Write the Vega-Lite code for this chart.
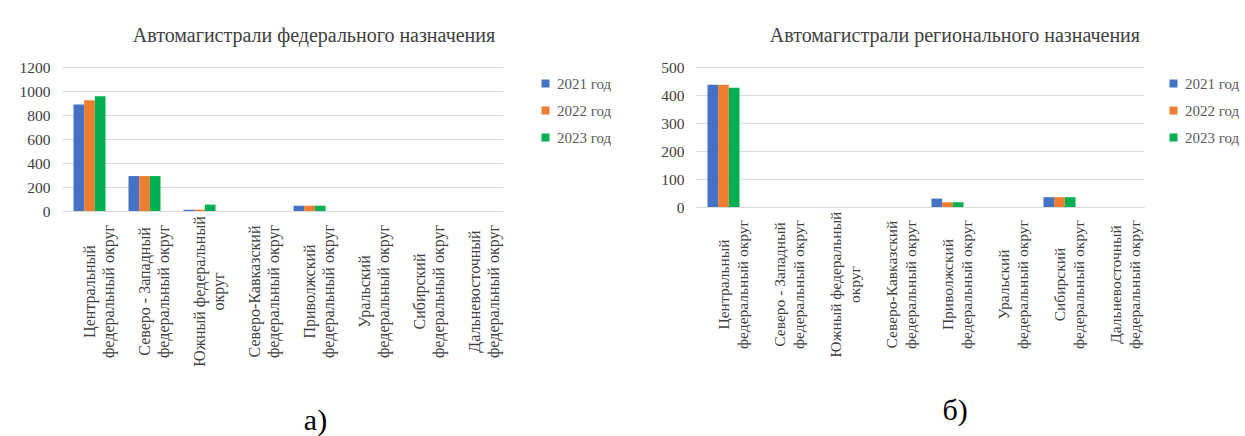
{
  "$schema": "https://vega.github.io/schema/vega-lite/v6.json",
  "padding": {"left": 19, "top": 26, "right": 0, "bottom": 0},
  "background": "white",
  "config": {
    "font": "Liberation Serif",
    "view": {"stroke": null},
    "style": {"guide-label": {"font": "Liberation Serif"}, "guide-title": {"font": "Liberation Serif"}, "group-title": {"font": "Liberation Serif"}},
    "axisY": {"labelFont": "Liberation Serif", "grid": true, "gridColor": "#D9D9D9", "domain": false, "ticks": false, "labelPadding": 12, "labelFontSize": 15.5, "labelColor": "#404040", "title": null, "format": "d"},
    "axisX": {"labelFont": "Liberation Serif", "title": null, "labelAngle": -90, "labelAlign": "center", "labelBaseline": "middle", "ticks": false, "labelFontSize": 16, "labelLineHeight": 19, "labelColor": "#404040", "domainColor": "#D9D9D9", "labelLimit": 0, "labelExpr": "split(datum.label, '|')"},
    "legend": {"title": null, "orient": "right", "symbolType": "square", "symbolSize": 64, "symbolStrokeWidth": 0, "labelFont": "Liberation Serif", "labelFontSize": 15, "labelColor": "#595959", "rowPadding": 11, "labelOffset": 4, "padding": 9},
    "title": {"font": "Liberation Serif", "fontSize": 20, "fontWeight": "normal", "color": "#404040", "frame": "bounds", "anchor": "middle", "offset": 14},
    "text": {"font": "Liberation Serif"}
  },
  "datasets": {
    "fed": [
      {"district": "Центральный|федеральный округ", "year": "2021 год", "value": 887},
      {"district": "Центральный|федеральный округ", "year": "2022 год", "value": 923},
      {"district": "Центральный|федеральный округ", "year": "2023 год", "value": 956},
      {"district": "Северо - Западный|федеральный округ", "year": "2021 год", "value": 291},
      {"district": "Северо - Западный|федеральный округ", "year": "2022 год", "value": 291},
      {"district": "Северо - Западный|федеральный округ", "year": "2023 год", "value": 291},
      {"district": "Южный федеральный|округ", "year": "2021 год", "value": 11},
      {"district": "Южный федеральный|округ", "year": "2022 год", "value": 11},
      {"district": "Южный федеральный|округ", "year": "2023 год", "value": 53},
      {"district": "Северо-Кавказский|федеральный округ", "year": "2021 год", "value": 0},
      {"district": "Северо-Кавказский|федеральный округ", "year": "2022 год", "value": 0},
      {"district": "Северо-Кавказский|федеральный округ", "year": "2023 год", "value": 0},
      {"district": "Приволжский|федеральный округ", "year": "2021 год", "value": 44},
      {"district": "Приволжский|федеральный округ", "year": "2022 год", "value": 44},
      {"district": "Приволжский|федеральный округ", "year": "2023 год", "value": 44},
      {"district": "Уральский|федеральный округ", "year": "2021 год", "value": 0},
      {"district": "Уральский|федеральный округ", "year": "2022 год", "value": 0},
      {"district": "Уральский|федеральный округ", "year": "2023 год", "value": 0},
      {"district": "Сибирский|федеральный округ", "year": "2021 год", "value": 0},
      {"district": "Сибирский|федеральный округ", "year": "2022 год", "value": 0},
      {"district": "Сибирский|федеральный округ", "year": "2023 год", "value": 0},
      {"district": "Дальневосточный|федеральный округ", "year": "2021 год", "value": 0},
      {"district": "Дальневосточный|федеральный округ", "year": "2022 год", "value": 0},
      {"district": "Дальневосточный|федеральный округ", "year": "2023 год", "value": 0}
    ],
    "reg": [
      {"district": "Центральный|федеральный округ", "year": "2021 год", "value": 437},
      {"district": "Центральный|федеральный округ", "year": "2022 год", "value": 437},
      {"district": "Центральный|федеральный округ", "year": "2023 год", "value": 426},
      {"district": "Северо - Западный|федеральный округ", "year": "2021 год", "value": 0},
      {"district": "Северо - Западный|федеральный округ", "year": "2022 год", "value": 0},
      {"district": "Северо - Западный|федеральный округ", "year": "2023 год", "value": 0},
      {"district": "Южный федеральный|округ", "year": "2021 год", "value": 0},
      {"district": "Южный федеральный|округ", "year": "2022 год", "value": 0},
      {"district": "Южный федеральный|округ", "year": "2023 год", "value": 0},
      {"district": "Северо-Кавказский|федеральный округ", "year": "2021 год", "value": 0},
      {"district": "Северо-Кавказский|федеральный округ", "year": "2022 год", "value": 0},
      {"district": "Северо-Кавказский|федеральный округ", "year": "2023 год", "value": 0},
      {"district": "Приволжский|федеральный округ", "year": "2021 год", "value": 30},
      {"district": "Приволжский|федеральный округ", "year": "2022 год", "value": 17},
      {"district": "Приволжский|федеральный округ", "year": "2023 год", "value": 17},
      {"district": "Уральский|федеральный округ", "year": "2021 год", "value": 0},
      {"district": "Уральский|федеральный округ", "year": "2022 год", "value": 0},
      {"district": "Уральский|федеральный округ", "year": "2023 год", "value": 0},
      {"district": "Сибирский|федеральный округ", "year": "2021 год", "value": 35},
      {"district": "Сибирский|федеральный округ", "year": "2022 год", "value": 35},
      {"district": "Сибирский|федеральный округ", "year": "2023 год", "value": 35},
      {"district": "Дальневосточный|федеральный округ", "year": "2021 год", "value": 0},
      {"district": "Дальневосточный|федеральный округ", "year": "2022 год", "value": 0},
      {"district": "Дальневосточный|федеральный округ", "year": "2023 год", "value": 0}
    ],
    "capA": [{"t": "а)"}],
    "capB": [{"t": "б)"}]
  },
  "spacing": 39,
  "resolve": {"scale": {"color": "independent"}, "legend": {"color": "independent"}},
  "hconcat": [
    {
      "spacing": 34,
      "resolve": {"scale": {"color": "independent"}, "legend": {"color": "independent"}},
      "vconcat": [
        {
          "data": {"name": "fed"},
          "title": {"text": "Автомагистрали федерального назначения", "dx": -6},
          "width": 440,
          "height": 144,
          "mark": {"type": "bar"},
          "encoding": {
            "x": {"field": "district", "type": "nominal", "sort": null, "scale": {"paddingInner": 0.418, "paddingOuter": 0.209}, "axis": {"labelPadding": 80}},
            "xOffset": {"field": "year", "type": "nominal"},
            "y": {"field": "value", "type": "quantitative", "scale": {"domain": [0, 1200]}, "axis": {"values": [0, 200, 400, 600, 800, 1000, 1200]}},
            "color": {"field": "year", "type": "nominal", "scale": {"range": ["#4472C4", "#ED7D31", "#00B050"]}, "legend": {"offset": 27}}
          }
        },
        {
          "data": {"name": "capA"},
          "width": 507,
          "height": 40,
          "mark": {"type": "text", "fontSize": 30, "color": "#000000", "font": "Liberation Serif"},
          "encoding": {"text": {"field": "t", "type": "nominal"}}
        }
      ]
    },
    {
      "spacing": 34,
      "resolve": {"scale": {"color": "independent"}, "legend": {"color": "independent"}},
      "vconcat": [
        {
          "data": {"name": "reg"},
          "title": {"text": "Автомагистрали регионального назначения"},
          "width": 448,
          "height": 140,
          "mark": {"type": "bar"},
          "encoding": {
            "x": {"field": "district", "type": "nominal", "sort": null, "scale": {"paddingInner": 0.41, "paddingOuter": 0.205}, "axis": {"labelPadding": 77, "labelFontSize": 15.5}},
            "xOffset": {"field": "year", "type": "nominal"},
            "y": {"field": "value", "type": "quantitative", "scale": {"domain": [0, 500]}, "axis": {"values": [0, 100, 200, 300, 400, 500]}},
            "color": {"field": "year", "type": "nominal", "scale": {"range": ["#4472C4", "#ED7D31", "#00B050"]}, "legend": {"offset": 13}}
          }
        },
        {
          "data": {"name": "capB"},
          "width": 518,
          "height": 40,
          "mark": {"type": "text", "fontSize": 30, "color": "#000000", "font": "Liberation Serif"},
          "encoding": {"text": {"field": "t", "type": "nominal"}}
        }
      ]
    }
  ]
}
